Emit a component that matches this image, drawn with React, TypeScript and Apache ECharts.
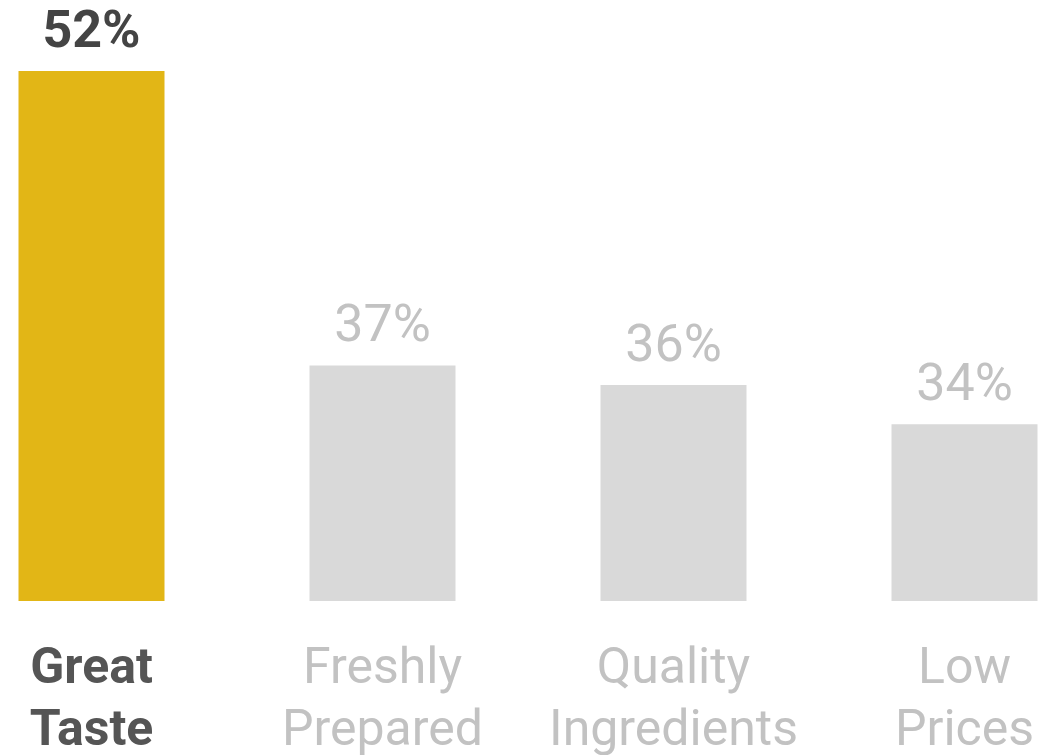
import React, { useEffect, useRef } from "react";
import * as echarts from "echarts";

const categories = ["Great\nTaste", "Freshly\nPrepared", "Quality\nIngredients", "Low\nPrices"];
const values = [52, 37, 36, 34];
const highlightIndex = 0;

const GOLD = "#e2b616";
const GRAY_BAR = "#d9d9d9";
const DARK_TEXT = "#444444";
const DARK_LABEL = "#555555";
const LIGHT_TEXT = "#c2c2c2";
const FONT = "Roboto, 'Liberation Sans', sans-serif";

export default function App() {
  const ref = useRef<HTMLDivElement>(null);
  useEffect(() => {
    if (!ref.current) return;
    const chart = echarts.init(ref.current, null, { renderer: "svg" });
    chart.setOption({
      animation: false,
      grid: { left: 0, right: 0, top: 71, bottom: 154, containLabel: false },
      xAxis: {
        type: "category",
        data: categories,
        axisLine: { show: false },
        axisTick: { show: false },
        axisLabel: {
          interval: 0,
          margin: 34,
          formatter: (value: string, index: number) =>
            value
              .split("\n")
              .map((l) => (index === highlightIndex ? `{hl|${l}}` : `{n|${l}}`))
              .join("\n"),
          rich: {
            hl: { fontFamily: FONT, fontSize: 50, fontWeight: "bold", color: DARK_LABEL, lineHeight: 62 },
            n: { fontFamily: FONT, fontSize: 50, fontWeight: "normal", color: LIGHT_TEXT, lineHeight: 62 },
          },
        },
      },
      yAxis: {
        type: "value",
        min: 25,
        max: 52,
        show: false,
        splitLine: { show: false },
      },
      series: [
        {
          type: "bar",
          barWidth: 146,
          data: values.map((v, i) => ({
            value: v,
            itemStyle: { color: i === highlightIndex ? GOLD : GRAY_BAR },
            label: {
              show: true,
              position: "top",
              distance: 16,
              formatter: "{c}%",
              fontFamily: FONT,
              fontSize: 52,
              fontWeight: i === highlightIndex ? "bold" : "normal",
              color: i === highlightIndex ? DARK_TEXT : LIGHT_TEXT,
            },
          })),
        },
      ],
    });
    return () => chart.dispose();
  }, []);
  return <div ref={ref} style={{ position: "fixed", left: -54.5, top: 0, width: 1164, height: 755 }} />;
}
